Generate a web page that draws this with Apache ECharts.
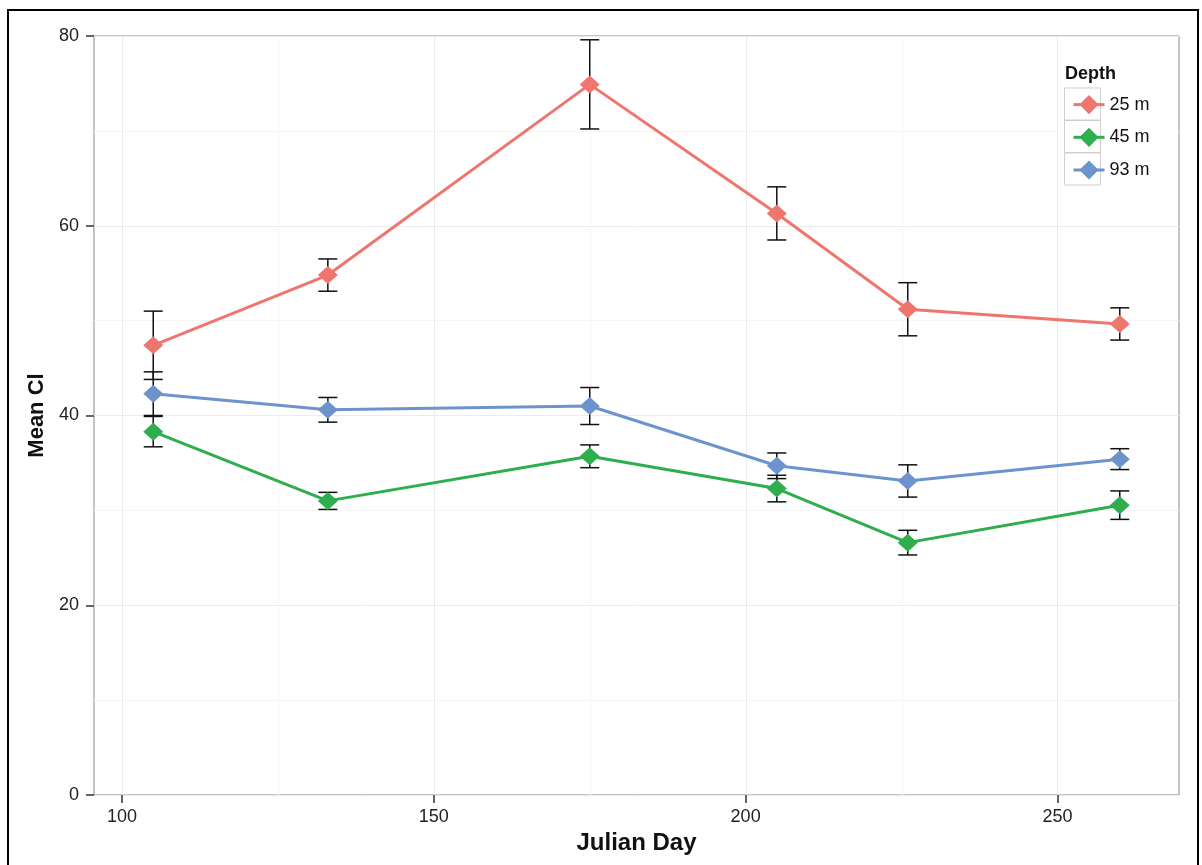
<!DOCTYPE html>
<html>
<head>
<meta charset="utf-8">
<script src="https://cdn.jsdelivr.net/npm/echarts@6/dist/echarts.min.js"></script>
<style>
  html, body { margin: 0; padding: 0; background: #fff; }
  #chart { width: 1202px; height: 865px; }
</style>
</head>
<body>
<div id="chart"></div>
<script>
// Julian day of each sampling
const days = [105, 133, 175, 205, 226, 260];

// Mean Cl per depth and its error half-width
const depths = ['25 m', '45 m', '93 m'];
const mean25 = [47.4, 54.8, 74.9, 61.3, 51.2, 49.65];
const err25  = [3.6, 1.7, 4.7, 2.8, 2.8, 1.7];
const mean45 = [38.3, 31.0, 35.7, 32.3, 26.6, 30.55];
const err45  = [1.6, 0.9, 1.2, 1.4, 1.3, 1.5];
const mean93 = [42.3, 40.6, 41.0, 34.7, 33.1, 35.4];
const err93  = [2.3, 1.3, 1.95, 1.35, 1.7, 1.1];

// Axis ticks
const xTicks = [100, 150, 200, 250];
const xMinor = [125, 175, 225];
const colors = ['#ee766e', '#2eae4c', '#6d93cc'];

const means = [mean25, mean45, mean93];
const errs = [err25, err45, err93];
const FONT = 'Liberation Sans, Arial, sans-serif';

const chart = echarts.init(document.getElementById('chart'));

const lineSeries = depths.map((name, i) => ({
  name: name,
  type: 'line',
  data: days.map((d, j) => [d, means[i][j]]),
  symbol: 'diamond',
  symbolSize: [20, 18],
  lineStyle: { width: 3, color: colors[i] },
  itemStyle: { color: colors[i] },
  z: 5
}));

const errorSeries = depths.map((name, i) => ({
  type: 'custom',
  silent: true,
  z: 4,
  data: days.map((d, j) => [d, means[i][j] - errs[i][j], means[i][j] + errs[i][j]]),
  renderItem: function (params, api) {
    const lo = api.coord([api.value(0), api.value(1)]);
    const hi = api.coord([api.value(0), api.value(2)]);
    const half = 9.5;
    const style = { stroke: '#111', lineWidth: 1.5 };
    return {
      type: 'group',
      children: [
        { type: 'line', shape: { x1: lo[0], y1: lo[1], x2: hi[0], y2: hi[1] }, style: style },
        { type: 'line', shape: { x1: lo[0] - half, y1: lo[1], x2: lo[0] + half, y2: lo[1] }, style: style },
        { type: 'line', shape: { x1: hi[0] - half, y1: hi[1], x2: hi[0] + half, y2: hi[1] }, style: style }
      ]
    };
  }
}));

// vertical grid lines for the x axis
function vGrid(values, color) {
  return {
    type: 'custom',
    silent: true,
    z: 0,
    data: values.map(v => [v]),
    renderItem: function (params, api) {
      const top = api.coord([api.value(0), 80]);
      const bot = api.coord([api.value(0), 0]);
      return {
        type: 'line',
        shape: { x1: Math.round(top[0]) + 0.5, y1: top[1], x2: Math.round(bot[0]) + 0.5, y2: bot[1] },
        style: { stroke: color, lineWidth: 1 }
      };
    }
  };
}

chart.setOption({
  backgroundColor: '#fff',
  animation: false,
  textStyle: { fontFamily: FONT },
  grid: {
    left: 94, top: 36, right: 23, bottom: 70,
    show: true, borderColor: '#8a8a8a', borderWidth: 1, backgroundColor: 'transparent'
  },
  xAxis: {
    type: 'value',
    min: 95.5, max: 269.5,
    name: 'Julian Day',
    nameLocation: 'middle',
    nameGap: 34,
    nameTextStyle: { fontSize: 24, fontWeight: 'bold', color: '#111' },
    axisLine: { show: false },
    axisTick: { show: true, customValues: xTicks, length: 8, lineStyle: { color: '#333', width: 1.5 } },
    axisLabel: { customValues: xTicks, fontSize: 18, color: '#222', margin: 13 },
    splitLine: { show: false }
  },
  yAxis: {
    type: 'value',
    min: 0, max: 80, interval: 20,
    name: 'Mean Cl',
    nameLocation: 'middle',
    nameGap: 40,
    nameTextStyle: { fontSize: 22, fontWeight: 'bold', color: '#111' },
    axisLine: { show: false },
    axisTick: { show: true, length: 8, lineStyle: { color: '#333', width: 1.5 } },
    axisLabel: { fontSize: 18, color: '#222', margin: 15 },
    splitLine: { show: true, lineStyle: { color: '#ebebeb', width: 1 } },
    minorTick: { show: false, splitNumber: 2 },
    minorSplitLine: { show: true, lineStyle: { color: '#f6f6f6', width: 1 } }
  },
  legend: {
    data: depths,
    orient: 'vertical',
    left: 1067,
    top: 90,
    itemWidth: 31,
    itemHeight: 24,
    itemGap: 13.5,
    selectedMode: false,
    lineStyle: { width: 3 },
    textStyle: { fontSize: 18, color: '#111' }
  },
  graphic: [
    // outer frame
    { type: 'rect', shape: { x: 8, y: 10, width: 1190, height: 870 }, style: { fill: 'none', stroke: '#000', lineWidth: 2 }, z: 100 },
    // legend background and key boxes
    { type: 'rect', shape: { x: 1058, y: 56, width: 119, height: 134 }, style: { fill: '#fff' }, z: 1 },
    { type: 'text', left: 1065, top: 65, style: { text: 'Depth', font: 'bold 18px ' + FONT, fill: '#111' }, z: 2 },
    { type: 'rect', shape: { x: 1064.5, y: 88, width: 36, height: 32 }, style: { fill: 'none', stroke: '#cfcfcf', lineWidth: 1 }, z: 2 },
    { type: 'rect', shape: { x: 1064.5, y: 120.5, width: 36, height: 32 }, style: { fill: 'none', stroke: '#cfcfcf', lineWidth: 1 }, z: 2 },
    { type: 'rect', shape: { x: 1064.5, y: 153, width: 36, height: 32 }, style: { fill: 'none', stroke: '#cfcfcf', lineWidth: 1 }, z: 2 }
  ],
  series: [vGrid(xMinor, '#f6f6f6'), vGrid(xTicks, '#ebebeb')].concat(errorSeries, lineSeries)
});
</script>
</body>
</html>
